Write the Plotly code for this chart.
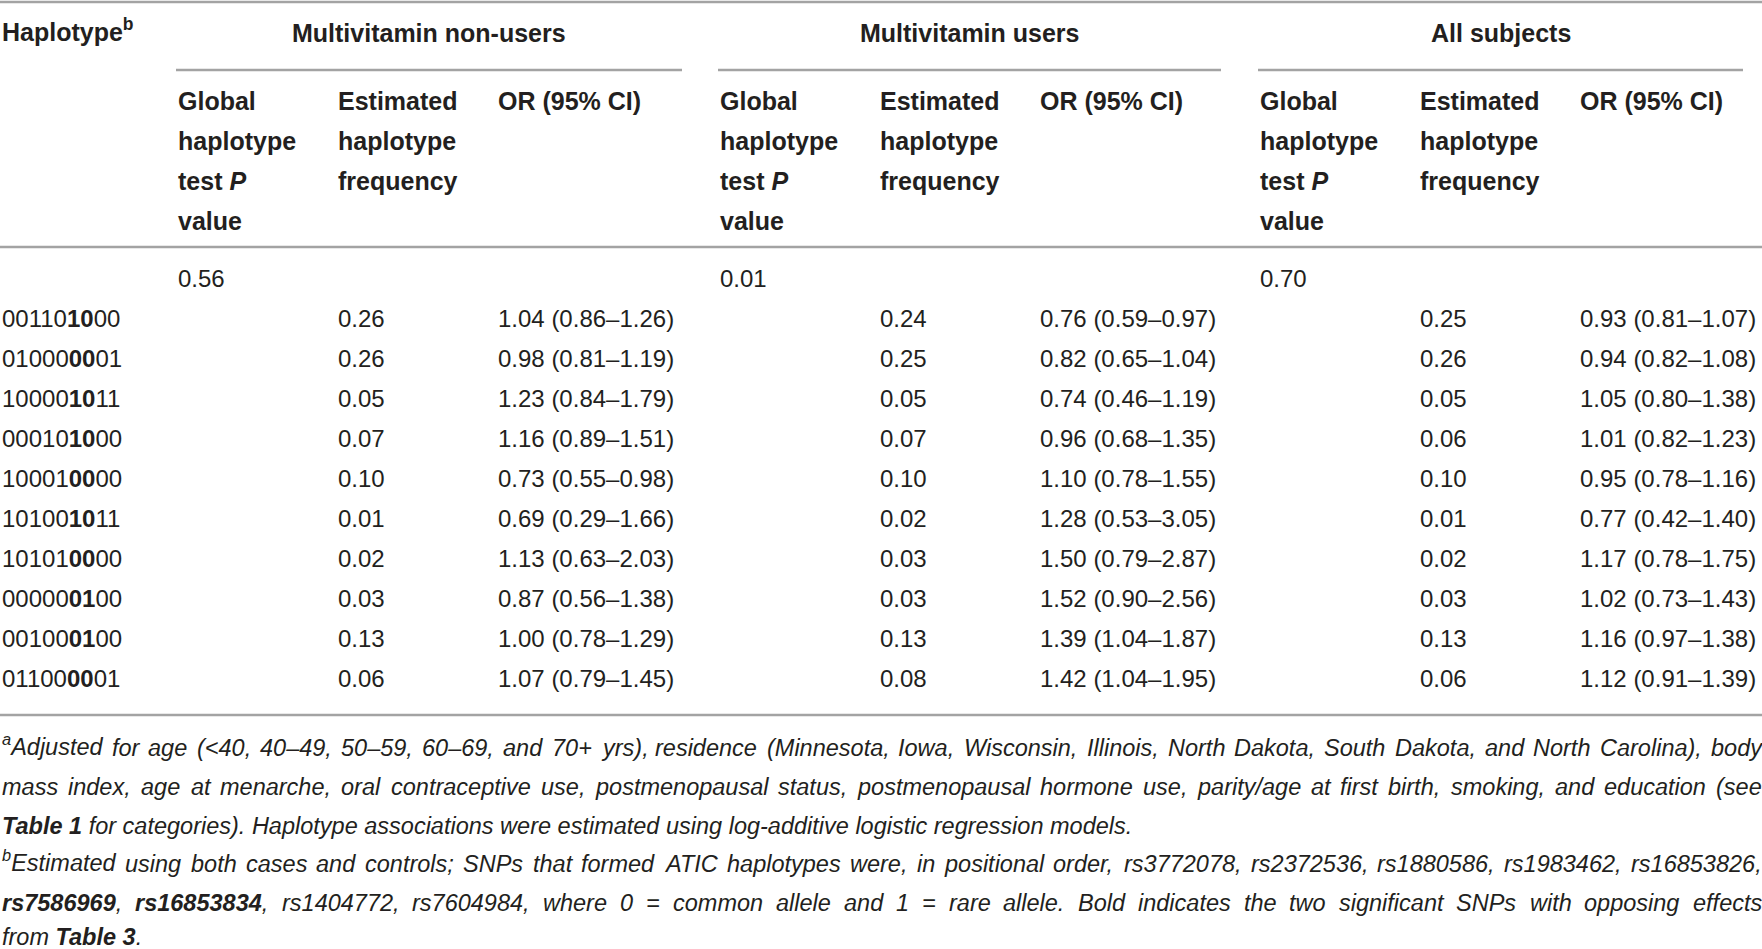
import re
import plotly.graph_objects as go

# ---- data ----
haplotypes = ["001101000", "010000001", "100001011", "000101000", "100010000",
              "101001011", "101010000", "000000100", "001000100", "011000001"]

groups = ["Multivitamin non-users", "Multivitamin users", "All subjects"]
global_p = ["0.56", "0.01", "0.70"]

freq_nonusers = [0.26, 0.26, 0.05, 0.07, 0.10, 0.01, 0.02, 0.03, 0.13, 0.06]
or_nonusers = [1.04, 0.98, 1.23, 1.16, 0.73, 0.69, 1.13, 0.87, 1.00, 1.07]
lo_nonusers = [0.86, 0.81, 0.84, 0.89, 0.55, 0.29, 0.63, 0.56, 0.78, 0.79]
hi_nonusers = [1.26, 1.19, 1.79, 1.51, 0.98, 1.66, 2.03, 1.38, 1.29, 1.45]

freq_users = [0.24, 0.25, 0.05, 0.07, 0.10, 0.02, 0.03, 0.03, 0.13, 0.08]
or_users = [0.76, 0.82, 0.74, 0.96, 1.10, 1.28, 1.50, 1.52, 1.39, 1.42]
lo_users = [0.59, 0.65, 0.46, 0.68, 0.78, 0.53, 0.79, 0.90, 1.04, 1.04]
hi_users = [0.97, 1.04, 1.19, 1.35, 1.55, 3.05, 2.87, 2.56, 1.87, 1.95]

freq_all = [0.25, 0.26, 0.05, 0.06, 0.10, 0.01, 0.02, 0.03, 0.13, 0.06]
or_all = [0.93, 0.94, 1.05, 1.01, 0.95, 0.77, 1.17, 1.02, 1.16, 1.12]
lo_all = [0.81, 0.82, 0.80, 0.82, 0.78, 0.42, 0.78, 0.73, 0.97, 0.91]
hi_all = [1.07, 1.08, 1.38, 1.23, 1.16, 1.40, 1.75, 1.43, 1.38, 1.39]

sub_headers = [["Global", "haplotype", "test <i>P</i>", "value"],
               ["Estimated", "haplotype", "frequency"],
               ["OR (95% CI)"]]

# (text, justified?)
footnotes = [
    ("<sup>a</sup>Adjusted for age (&lt;40, 40–49, 50–59, 60–69, and 70+ yrs), residence (Minnesota, Iowa, Wisconsin, Illinois, North Dakota, South Dakota, and North Carolina), body", True),
    ("mass index, age at menarche, oral contraceptive use, postmenopausal status, postmenopausal hormone use, parity/age at first birth, smoking, and education (see", True),
    ("<b>Table 1</b> for categories). Haplotype associations were estimated using log-additive logistic regression models.", False),
    ("<sup>b</sup>Estimated using both cases and controls; SNPs that formed ATIC haplotypes were, in positional order, rs3772078, rs2372536, rs1880586, rs1983462, rs16853826,", True),
    ("<b>rs7586969</b>, <b>rs16853834</b>, rs1404772, rs7604984, where 0 = common allele and 1 = rare allele. Bold indicates the two significant SNPs with opposing effects", True),
    ("from <b>Table 3</b>.", False),
]

# ---- layout (pixels) ----
W, H = 1762, 949
FONT = "Liberation Sans, Arial, sans-serif"
TXT = "#231f20"
RULE = "#a3a3a3"
group_x = [176, 718, 1258]
group_rule_end = [682, 1221, 1743]
col_off = [0, 160, 320]
hdr_base = 42
sub_base = [110, 150, 190, 230]
p_base = 287
row_base0, row_step = 327, 40
foot_base = [756, 795, 834, 872, 911, 945]
FOOT_SIZE = 23.5

# advance widths (1/1000 em) of Liberation Sans / Arial, used to justify footnotes
_REG = {" ": 278, "(": 333, ")": 333, "+": 584, ",": 278, "-": 333, ".": 278, "/": 278,
        ";": 278, ":": 278, "<": 584, "=": 584, "–": 556, "A": 667, "B": 667, "C": 722,
        "D": 722, "E": 667, "I": 278, "M": 833, "N": 722, "P": 667, "S": 667, "T": 611,
        "W": 944, "H": 722, "a": 556, "b": 556, "c": 500, "d": 556, "e": 556, "f": 278,
        "g": 556, "h": 556, "i": 222, "j": 222, "k": 500, "l": 222, "m": 833, "n": 556,
        "o": 556, "p": 556, "q": 556, "r": 333, "s": 500, "t": 278, "u": 556, "v": 500,
        "w": 722, "x": 500, "y": 500, "z": 500}
_BOLD = {"T": 611, "a": 556, "b": 611, "l": 278, "e": 556, " ": 278, "r": 389, "s": 556}


def text_width(html, size):
    html = html.replace("&lt;", "<")
    w = 0.0
    for m in re.finditer(r"<(b|sup)>(.*?)</\1>|(<(?!/?(?:b|sup)>)|[^<]+)", html):
        if m.group(3):
            w += sum(_REG.get(ch, 556) for ch in m.group(3))
        elif m.group(1) == "b":
            w += sum(_BOLD.get(ch, 556) for ch in m.group(2))
        else:
            w += 0.7 * sum(_REG.get(ch, 556) for ch in m.group(2))
    return w * size / 1000.0


fig = go.Figure()
ann = []


def put(x, base, text, size=24, anchor="left", bold=False):
    yc = base - 0.35 * size
    if "<sup>" in text:
        yc -= 0.12 * size  # superscript makes the box taller at the top
    if bold:
        text = "<b>" + text + "</b>"
    ann.append(dict(x=x, y=yc, text=text, xref="x", yref="y",
                    xanchor=anchor, yanchor="middle", showarrow=False,
                    font=dict(family=FONT, size=size, color=TXT)))


# header
put(0, hdr_base, "Haplotype<sup>b</sup>", 25, bold=True)
for g, name in enumerate(groups):
    put((group_x[g] + group_rule_end[g]) / 2, hdr_base, name, 25, "center", bold=True)
    for c, lines in enumerate(sub_headers):
        for k, line in enumerate(lines):
            put(group_x[g] + col_off[c], sub_base[k], line, 25, bold=True)
    put(group_x[g], p_base, global_p[g])

# body
cols = [(freq_nonusers, or_nonusers, lo_nonusers, hi_nonusers),
        (freq_users, or_users, lo_users, hi_users),
        (freq_all, or_all, lo_all, hi_all)]
for i, hap in enumerate(haplotypes):
    base = row_base0 + row_step * i
    put(0, base, hap[:5] + "<b>" + hap[5:7] + "</b>" + hap[7:])
    for g, (fr, orr, lo, hi) in enumerate(cols):
        put(group_x[g] + col_off[1], base, f"{fr[i]:.2f}")
        put(group_x[g] + col_off[2], base, f"{orr[i]:.2f} ({lo[i]:.2f}–{hi[i]:.2f})")

# footnotes (justified lines are set word by word)
for k, (line, just) in enumerate(footnotes):
    if not just:
        put(0, foot_base[k], "<i>" + line + "</i>", FOOT_SIZE)
        continue
    words = line.split(" ")
    widths = [text_width(wd, FOOT_SIZE) for wd in words]
    gap = (W - 2 - sum(widths)) / (len(words) - 1)
    x = 0.0
    for wd, wdw in zip(words, widths):
        put(x, foot_base[k], "<i>" + wd + "</i>", FOOT_SIZE)
        x += wdw + gap

# rules
shapes = []
for y0, xa, xb in [(2, 0, W), (247, 0, W), (715, 0, W)]:
    shapes.append(dict(type="line", x0=xa, x1=xb, y0=y0, y1=y0, xref="x", yref="y",
                       line=dict(color=RULE, width=2.5)))
for g in range(3):
    shapes.append(dict(type="line", x0=group_x[g], x1=group_rule_end[g], y0=70, y1=70,
                       xref="x", yref="y", line=dict(color=RULE, width=2.5)))

fig.update_layout(
    width=W, height=H, autosize=False,
    margin=dict(l=0, r=0, t=0, b=0),
    paper_bgcolor="white", plot_bgcolor="white",
    xaxis=dict(range=[0, W], visible=False, fixedrange=True),
    yaxis=dict(range=[H, 0], visible=False, fixedrange=True),
    annotations=ann, shapes=shapes, showlegend=False,
)

fig.write_html("out.html", config={"displayModeBar": False},
               post_script="document.body.style.margin='0';document.body.style.overflow='hidden';")
